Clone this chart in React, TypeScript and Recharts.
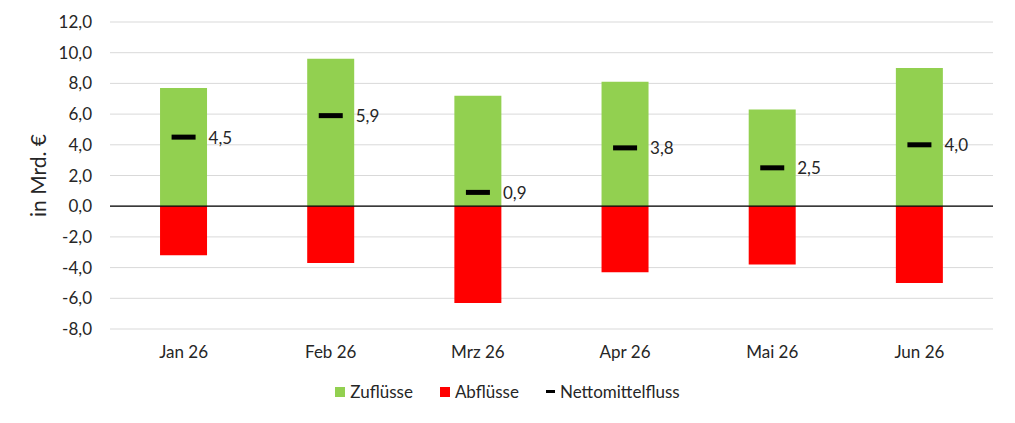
import React from "react";
import {
  ComposedChart,
  Bar,
  Line,
  XAxis,
  YAxis,
  CartesianGrid,
  ReferenceLine,
  LabelList,
} from "recharts";

const categories = ["Jan 26", "Feb 26", "Mrz 26", "Apr 26", "Mai 26", "Jun 26"];
const zufluesse = [7.7, 9.6, 7.2, 8.1, 6.3, 9.0];
const abfluesse = [-3.2, -3.7, -6.3, -4.3, -3.8, -5.0];
const netto = [4.5, 5.9, 0.9, 3.8, 2.5, 4.0];
const yTicks = [-8, -6, -4, -2, 0, 2, 4, 6, 8, 10, 12];

const data = categories.map((c, i) => ({
  name: c,
  zu: zufluesse[i],
  ab: abfluesse[i],
  net: netto[i],
}));

const FONT = "Lato, 'Open Sans', sans-serif";
const TEXT = "#262626";
const FS = 17;
const fmt = (v: number) => v.toFixed(1).replace(".", ",");

const Dash = (props: any) => {
  const { cx, cy, index } = props;
  if (cx == null || cy == null) return null;
  return <rect key={`d${index}`} x={cx - 12} y={cy - 2.5} width={24} height={5} fill="#000" />;
};

const NetLabel = (props: any) => {
  const { x, y, value } = props;
  return (
    <text
      x={x + 25}
      y={y}
      dominantBaseline="central"
      fontFamily={FONT}
      fontSize={FS}
      fill={TEXT}
    >
      {fmt(value)}
    </text>
  );
};

const LegendBox = () => (
  <div
    style={{
      position: "absolute",
      left: 0,
      top: 381,
      width: 1015,
      display: "flex",
      justifyContent: "center",
      alignItems: "center",
      fontFamily: FONT,
      fontSize: FS,
      color: TEXT,
      gap: 27,
    }}
  >
    <span style={{ display: "flex", alignItems: "center" }}>
      <span style={{ width: 10, height: 10, background: "#92d050", marginRight: 5, display: "inline-block" }} />
      Zuflüsse
    </span>
    <span style={{ display: "flex", alignItems: "center" }}>
      <span style={{ width: 10, height: 10, background: "#ff0000", marginRight: 5, display: "inline-block" }} />
      Abflüsse
    </span>
    <span style={{ display: "flex", alignItems: "center" }}>
      <span style={{ width: 9, height: 3, background: "#000", marginRight: 5, display: "inline-block" }} />
      Nettomittelfluss
    </span>
  </div>
);

export default function App() {
  return (
    <div style={{ position: "absolute", left: 0, top: 0, width: 1015, height: 423, background: "#fff" }}>
      <ComposedChart
        width={1015}
        height={423}
        data={data}
        stackOffset="sign"
        barCategoryGap="34%"
        margin={{ top: 22, right: 22, bottom: 54, left: 0 }}
      >
        <CartesianGrid vertical={false} stroke="#d9d9d9" strokeWidth={1} />
        <XAxis
          dataKey="name"
          axisLine={false}
          tickLine={false}
          tickMargin={11}
          tick={{ fontFamily: FONT, fontSize: FS, fill: TEXT }}
          height={40}
        />
        <YAxis
          domain={[-8, 12]}
          ticks={yTicks}
          interval={0}
          width={110}
          axisLine={false}
          tickLine={false}
          tickMargin={12}
          tickFormatter={fmt}
          tick={{ fontFamily: FONT, fontSize: FS, fill: TEXT }}
          label={{
            value: "in Mrd. €",
            angle: -90,
            position: "insideLeft",
            offset: 39,
            style: { fontFamily: FONT, fontSize: 21, fill: TEXT, textAnchor: "middle" },
          }}
        />
        <Bar dataKey="zu" stackId="a" fill="#92d050" isAnimationActive={false} />
        <Bar dataKey="ab" stackId="a" fill="#ff0000" isAnimationActive={false} />
        <ReferenceLine y={0} stroke="#000" strokeWidth={1.2} />
        <Line
          dataKey="net"
          stroke="none"
          dot={Dash}
          activeDot={false}
          isAnimationActive={false}
        >
          <LabelList dataKey="net" content={NetLabel} />
        </Line>
      </ComposedChart>
      <LegendBox />
    </div>
  );
}
